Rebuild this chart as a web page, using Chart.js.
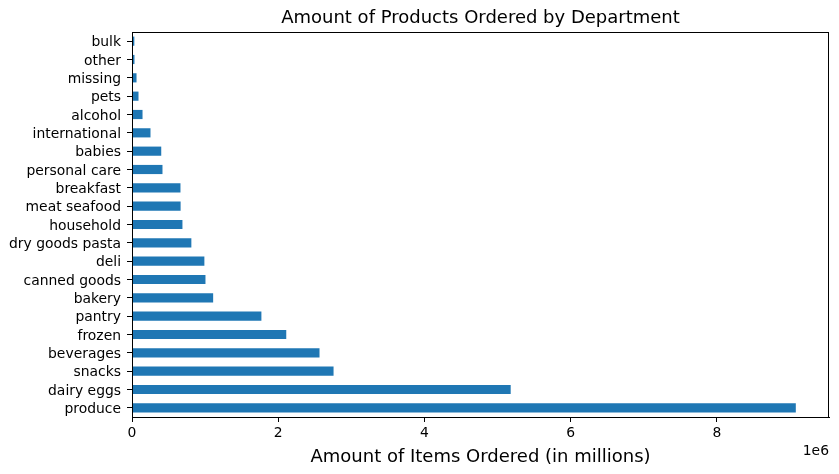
<!DOCTYPE html>
<html>
<head>
<meta charset="utf-8">
<script src="https://cdn.jsdelivr.net/npm/chart.js@4/dist/chart.umd.min.js"></script>
<style>
  html, body { margin: 0; padding: 0; background: #fff; }
  #wrap { width: 839px; height: 474px; }
</style>
</head>
<body>
<div id="wrap"><canvas id="deptChart"></canvas></div>
<script>
// departments, biggest first (pandas draws the first one at the bottom)
const departments = ['produce', 'dairy eggs', 'snacks', 'beverages', 'frozen', 'pantry',
  'bakery', 'canned goods', 'deli', 'dry goods pasta', 'household', 'meat seafood',
  'breakfast', 'personal care', 'babies', 'international', 'alcohol', 'pets',
  'missing', 'other', 'bulk'];
const itemsOrdered = [9080000, 5180000, 2757000, 2565000, 2110000, 1770000,
  1110000, 1005000, 990000, 812000, 690000, 665000,
  663000, 417000, 400000, 253000, 144000, 89000,
  62000, 34000, 32000];
const xTicks = [0, 2000000, 4000000, 6000000, 8000000];
const xMax = 9080000 * 1.05;

const FONT = 'DejaVu Sans';
const BAR = '#1f77b4';

// fixed plot box, like the matplotlib axes
const AXIS_LEFT = 132;
const AXIS_BOTTOM = 57;

const frameAndText = {
  id: 'frameAndText',
  afterDraw(chart) {
    const { ctx, chartArea: a } = chart;
    ctx.save();
    ctx.strokeStyle = '#000';
    ctx.lineWidth = 1;
    ctx.strokeRect(a.left + 0.5, a.top + 0.5, a.right - a.left - 1, a.bottom - a.top);
    ctx.fillStyle = '#000';
    ctx.textBaseline = 'middle';
    ctx.textAlign = 'center';
    ctx.font = '18px ' + FONT;
    ctx.fillText('Amount of Products Ordered by Department', (a.left + a.right) / 2, 18);
    ctx.textAlign = 'right';
    ctx.font = '13.9px ' + FONT;
    ctx.fillText('1e6', a.right, 451);
    ctx.restore();
  }
};

new Chart(document.getElementById('deptChart'), {
  type: 'bar',
  data: {
    labels: departments,
    datasets: [{
      data: itemsOrdered,
      backgroundColor: BAR,
      borderWidth: 0,
      barPercentage: 0.5,
      categoryPercentage: 1.0
    }]
  },
  options: {
    indexAxis: 'y',
    responsive: true,
    maintainAspectRatio: false,
    animation: false,
    devicePixelRatio: 1,
    layout: { padding: { top: 32, right: 10, bottom: 0, left: 0 } },
    plugins: { legend: { display: false }, tooltip: { enabled: false } },
    scales: {
      x: {
        type: 'linear',
        min: 0,
        max: xMax,
        afterFit: (s) => { s.height = AXIS_BOTTOM; },
        afterBuildTicks: (s) => { s.ticks = xTicks.map(v => ({ value: v })); },
        grid: { drawOnChartArea: false, drawTicks: true, tickLength: 5, color: '#000' },
        border: { display: true, color: '#000' },
        ticks: {
          color: '#000',
          font: { family: FONT, size: 13.9 },
          padding: 3,
          maxRotation: 0,
          callback: (v) => String(v / 1000000)
        },
        title: {
          display: true,
          text: 'Amount of Items Ordered (in millions)',
          color: '#000',
          font: { family: FONT, size: 18 },
          padding: { top: 2, bottom: 6 }
        }
      },
      y: {
        reverse: true,
        afterFit: (s) => { s.width = AXIS_LEFT; },
        grid: { offset: false, drawOnChartArea: false, drawTicks: true, tickLength: 5, color: '#000' },
        border: { display: true, color: '#000' },
        ticks: {
          color: '#000',
          font: { family: FONT, size: 13.9 },
          padding: 6,
          labelOffset: 1.5,
          autoSkip: false
        }
      }
    }
  },
  plugins: [frameAndText]
});
</script>
</body>
</html>
